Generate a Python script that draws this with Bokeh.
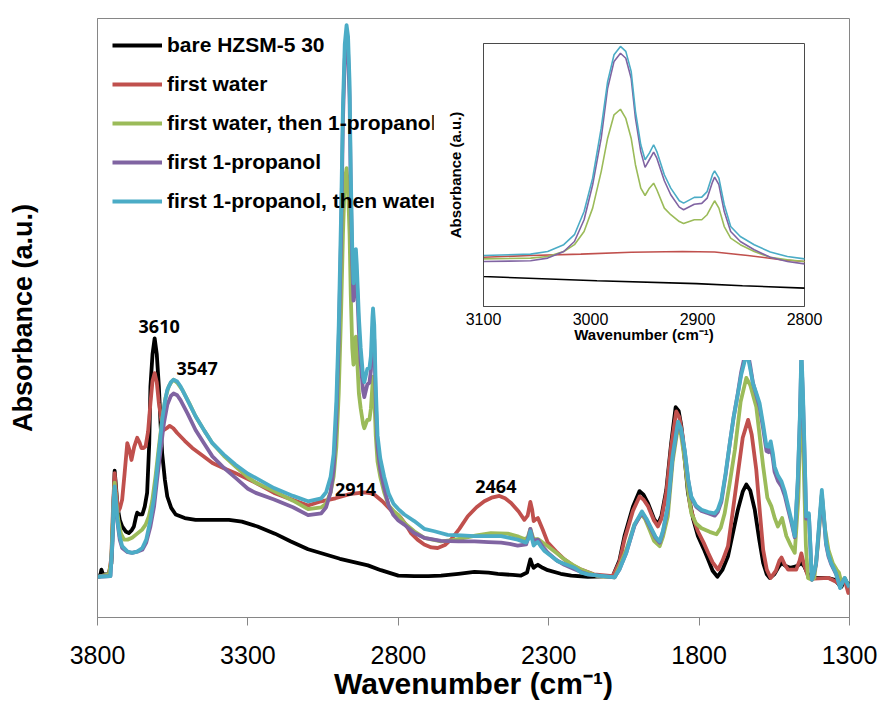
from bokeh.plotting import figure
from bokeh.models import Range1d, FixedTicker, Legend, LegendItem
from bokeh.layouts import row
from bokeh.embed import file_html
from bokeh.resources import INLINE
from bokeh.core.properties import value

# ---------------- FTIR spectra, absorbance in arbitrary units ----------------
names = ["bare HZSM-5 30", "first water", "first water, then 1-propanol",
         "first 1-propanol", "first 1-propanol, then water"]
colors = ["#000000", "#c0504d", "#9bbb59", "#8064a2", "#4bacc6"]

# bare HZSM-5 30
black_wn = [3800, 3790, 3787, 3782, 3763, 3754, 3748, 3743, 3738, 3734, 3726, 3718, 3705, 3696,
            3686, 3679, 3672, 3668, 3660, 3651, 3643, 3635, 3628, 3624, 3617, 3610, 3603, 3596,
            3590, 3585, 3576, 3568, 3555, 3540, 3510, 3474, 3420, 3363, 3320, 3268, 3210, 3157,
            3100, 2994, 2901, 2858, 2800, 2747, 2700, 2658, 2600, 2547, 2500, 2469, 2420, 2392,
            2372, 2361, 2355, 2350, 2343, 2336, 2320, 2303, 2260, 2225, 2170, 2087, 2065, 2048,
            2020, 1998, 1985, 1970, 1950, 1937, 1925, 1909, 1893, 1878, 1868, 1859, 1848, 1837,
            1820, 1804, 1785, 1770, 1755, 1739, 1722, 1704, 1688, 1671, 1655, 1643, 1630, 1615,
            1600, 1587, 1575, 1565, 1550, 1535, 1526, 1512, 1498, 1480, 1468, 1460, 1450, 1438,
            1426, 1400, 1370, 1349, 1335, 1327, 1316, 1308, 1300]
black_ab = [.068, .072, .080, .072, .072, .090, .170, .245, .215, .186, .163, .152, .143, .141,
            .146, .152, .168, .175, .172, .172, .185, .208, .290, .386, .440, .466, .440, .386,
            .320, .274, .230, .202, .183, .172, .166, .163, .163, .163, .160, .152, .140, .127,
            .114, .098, .087, .079, .070, .069, .069, .070, .073, .076, .075, .073, .071, .070,
            .075, .097, .088, .083, .086, .088, .083, .079, .073, .070, .068, .069, .095, .136,
            .185, .211, .205, .191, .165, .155, .170, .213, .290, .351, .345, .319, .265, .208,
            .165, .136, .115, .097, .078, .068, .080, .102, .140, .180, .210, .222, .212, .180,
            .130, .091, .072, .066, .072, .085, .091, .086, .083, .085, .088, .091, .085, .072,
            .066, .066, .066, .063, .055, .051, .063, .058, .055]

# first water
red_wn = [3800, 3762, 3754, 3748, 3743, 3738, 3731, 3725, 3718, 3710, 3701, 3694, 3687, 3678,
          3668, 3660, 3654, 3647, 3640, 3632, 3624, 3617, 3610, 3603, 3596, 3588, 3579, 3570,
          3560, 3548, 3535, 3510, 3485, 3450, 3418, 3380, 3341, 3300, 3274, 3213, 3160, 3100,
          3056, 3009, 2962, 2914, 2884, 2853, 2822, 2800, 2791, 2775, 2758, 2736, 2714, 2690,
          2669, 2645, 2625, 2597, 2569, 2540, 2514, 2490, 2464, 2445, 2425, 2400, 2381, 2370,
          2361, 2355, 2350, 2343, 2336, 2320, 2303, 2275, 2248, 2220, 2192, 2150, 2087, 2065,
          2048, 2020, 1998, 1985, 1970, 1950, 1937, 1925, 1909, 1893, 1876, 1866, 1854, 1842,
          1830, 1815, 1804, 1785, 1770, 1755, 1737, 1722, 1704, 1690, 1671, 1655, 1637, 1625,
          1610, 1597, 1587, 1575, 1562, 1545, 1533, 1526, 1515, 1504, 1477, 1466, 1460, 1452,
          1438, 1417, 1370, 1338, 1316, 1304, 1300]
red_ab = [.068, .072, .100, .190, .241, .210, .177, .183, .197, .240, .291, .280, .263, .285,
          .300, .292, .283, .283, .286, .310, .358, .395, .408, .393, .358, .330, .313, .316,
          .320, .316, .308, .295, .283, .270, .258, .249, .241, .231, .225, .208, .198, .187,
          .194, .199, .206, .209, .207, .194, .178, .171, .166, .155, .141, .130, .122, .117,
          .116, .121, .130, .148, .169, .184, .194, .200, .203, .199, .191, .177, .163, .170,
          .193, .180, .161, .164, .166, .147, .125, .110, .097, .087, .080, .072, .069, .092,
          .130, .178, .202, .197, .186, .162, .152, .165, .208, .285, .344, .335, .302, .240,
          .186, .160, .144, .125, .108, .092, .080, .095, .119, .170, .241, .300, .330, .305,
          .247, .170, .113, .080, .066, .078, .095, .100, .088, .080, .080, .095, .107, .090,
          .069, .065, .066, .058, .063, .041, .045]

# C-H stretching window (3100-2800), sampled finely for the three propanol spectra
ch_wn = [3100, 3056, 3040, 3025, 3015, 3006, 2998, 2990, 2984, 2978, 2972, 2967, 2962, 2958,
         2953, 2949, 2945, 2941, 2938, 2931, 2925, 2917, 2913, 2903, 2896, 2891, 2886, 2884,
         2880, 2875, 2869, 2860, 2847, 2832, 2816, 2800]
ch_green = [.181, .184, .190, .209, .235, .285, .374, .513, .640, .729, .750, .715, .640, .539,
            .450, .422, .450, .469, .444, .374, .349, .323, .316, .330, .330, .349, .387, .402,
            .374, .304, .260, .235, .209, .187, .178, .171]
ch_purple = [.171, .174, .184, .209, .247, .330, .463, .640, .830, .932, .963, .944, .868, .716,
             .589, .529, .558, .587, .564, .478, .425, .378, .368, .389, .392, .412, .473, .492,
             .463, .361, .285, .247, .216, .187, .171, .162]
ch_cyan = [.194, .199, .209, .235, .273, .361, .488, .678, .855, .957, .989, .970, .894, .742,
           .615, .558, .583, .615, .589, .501, .450, .402, .393, .415, .416, .437, .501, .516,
           .488, .387, .304, .266, .235, .207, .190, .181]

# first water, then 1-propanol (outside the C-H window)
green_hi_wn = [3800, 3762, 3754, 3748, 3743, 3738, 3731, 3722, 3712, 3700, 3685, 3668, 3651,
               3640, 3629, 3618, 3607, 3596, 3585, 3574, 3563, 3553, 3547, 3535, 3518, 3495,
               3474, 3445, 3418, 3380, 3341, 3300, 3274, 3213, 3150]
green_hi_ab = [.068, .072, .095, .180, .225, .195, .163, .140, .130, .130, .133, .140, .147,
               .155, .169, .195, .236, .285, .330, .367, .386, .394, .397, .392, .380, .358,
               .336, .312, .291, .270, .252, .234, .225, .211, .195]
green_lo_wn = [2780, 2747, 2714, 2658, 2620, 2580, 2540, 2492, 2436, 2400, 2381, 2370, 2361,
               2355, 2350, 2343, 2336, 2320, 2303, 2275, 2248, 2220, 2192, 2137, 2081, 2065,
               2042, 2015, 1992, 1980, 1965, 1950, 1931, 1920, 1904, 1888, 1870, 1860, 1848,
               1836, 1826, 1810, 1792, 1765, 1742, 1728, 1715, 1698, 1681, 1662, 1643, 1630,
               1610, 1598, 1587, 1573, 1560, 1548, 1538, 1524, 1510, 1495, 1482, 1470, 1460,
               1452, 1445, 1438, 1425, 1417, 1405, 1392, 1382, 1370, 1355, 1343, 1335, 1327,
               1316, 1300]
green_lo_ab = [.158, .144, .133, .127, .129, .133, .137, .141, .140, .135, .131, .133, .148,
               .138, .130, .131, .131, .125, .119, .108, .097, .088, .080, .069, .067, .085,
               .113, .155, .172, .165, .147, .128, .119, .135, .169, .260, .319, .305, .263,
               .210, .174, .157, .149, .143, .139, .150, .174, .225, .280, .360, .400, .388,
               .352, .300, .252, .200, .186, .165, .152, .166, .136, .120, .108, .200, .400,
               .250, .120, .066, .063, .066, .120, .205, .150, .113, .090, .080, .075, .058,
               .066, .050]

# first 1-propanol (outside the C-H window)
purple_hi_wn = [3800, 3757, 3750, 3746, 3743, 3739, 3734, 3726, 3718, 3700, 3685, 3668, 3651,
                3638, 3624, 3612, 3602, 3590, 3579, 3568, 3556, 3547, 3535, 3524, 3500, 3474,
                3445, 3418, 3380, 3341, 3300, 3274, 3213, 3150]
purple_hi_ab = [.068, .069, .125, .195, .213, .190, .160, .130, .116, .109, .108, .110, .113,
                .125, .152, .185, .230, .280, .325, .355, .370, .374, .371, .363, .340, .313,
                .290, .269, .250, .233, .215, .208, .197, .184]
purple_lo_wn = [2780, 2747, 2714, 2658, 2600, 2547, 2500, 2458, 2430, 2403, 2375, 2367, 2361,
                2355, 2350, 2343, 2336, 2320, 2303, 2275, 2248, 2220, 2192, 2170, 2081, 2065,
                2042, 2015, 1990, 1975, 1959, 1945, 1931, 1920, 1904, 1888, 1870, 1860, 1848,
                1836, 1826, 1810, 1792, 1770, 1748, 1738, 1726, 1712, 1698, 1685, 1671, 1660,
                1649, 1640, 1630, 1621, 1610, 1599, 1587, 1576, 1569, 1562, 1555, 1549, 1538,
                1526, 1515, 1504, 1492, 1482, 1472, 1465, 1460, 1455, 1451, 1447, 1444, 1438,
                1435, 1430, 1425, 1418, 1411, 1402, 1392, 1385, 1378, 1370, 1361, 1345, 1331,
                1322, 1316, 1308, 1300]
purple_lo_ab = [.155, .141, .133, .128, .127, .127, .126, .125, .123, .120, .122, .135, .148,
                .135, .127, .129, .130, .118, .108, .096, .088, .082, .076, .072, .067, .080,
                .108, .153, .175, .163, .147, .133, .125, .143, .183, .268, .325, .313, .278,
                .228, .200, .185, .178, .174, .170, .176, .193, .238, .290, .335, .375, .410,
                .435, .448, .420, .392, .372, .352, .315, .278, .276, .285, .266, .243, .228,
                .219, .203, .180, .156, .134, .225, .330, .435, .370, .300, .225, .165, .168,
                .170, .118, .063, .074, .089, .145, .205, .165, .122, .102, .089, .073, .050,
                .060, .065, .057, .050]

# first 1-propanol, then water (outside the C-H window)
cyan_hi_wn = [3800, 3757, 3750, 3746, 3743, 3739, 3734, 3726, 3718, 3700, 3685, 3668, 3651,
              3638, 3624, 3612, 3602, 3593, 3585, 3576, 3568, 3556, 3547, 3535, 3524, 3500,
              3474, 3445, 3418, 3380, 3341, 3300, 3274, 3213, 3150]
cyan_hi_ab = [.068, .069, .130, .200, .219, .195, .163, .135, .119, .110, .108, .110, .116,
              .130, .163, .200, .247, .290, .330, .360, .380, .393, .397, .394, .386, .362,
              .336, .312, .291, .272, .255, .240, .233, .216, .203]
cyan_lo_wn = [2780, 2747, 2714, 2680, 2636, 2590, 2547, 2500, 2458, 2430, 2403, 2375, 2367,
              2361, 2355, 2350, 2343, 2336, 2325, 2314, 2290, 2270, 2240, 2214, 2192, 2170,
              2081, 2065, 2042, 2015, 1990, 1975, 1959, 1945, 1931, 1920, 1904, 1888, 1870,
              1860, 1848, 1836, 1826, 1810, 1792, 1770, 1748, 1738, 1726, 1712, 1698, 1685,
              1671, 1660, 1649, 1640, 1630, 1621, 1610, 1599, 1587, 1576, 1569, 1562, 1555,
              1549, 1538, 1526, 1515, 1504, 1492, 1482, 1472, 1465, 1460, 1455, 1451, 1447,
              1444, 1438, 1435, 1430, 1425, 1418, 1411, 1402, 1392, 1385, 1378, 1370, 1361,
              1345, 1331, 1322, 1316, 1308, 1300]
cyan_lo_ab = [.172, .161, .148, .144, .138, .137, .136, .136, .136, .133, .130, .125, .132,
              .144, .130, .120, .124, .126, .118, .111, .102, .094, .088, .083, .075, .072,
              .067, .080, .108, .155, .177, .165, .149, .135, .127, .145, .186, .270, .327,
              .315, .280, .230, .202, .187, .180, .176, .174, .180, .197, .240, .291, .335,
              .374, .405, .427, .440, .415, .391, .375, .358, .322, .286, .285, .294, .275,
              .252, .237, .227, .210, .186, .160, .136, .230, .336, .445, .380, .308, .230,
              .169, .172, .174, .120, .063, .075, .091, .150, .213, .170, .125, .105, .091,
              .074, .049, .060, .066, .058, .051]

# band positions quoted on the chart
band_text = ["3610", "3547", "2914", "2464"]
band_wn = [3610, 3547, 2914, 2464]

# ---------------- assemble full spectra ----------------
spectra = [
    (black_wn, black_ab),
    (red_wn, red_ab),
    (green_hi_wn + ch_wn + green_lo_wn, green_hi_ab + ch_green + green_lo_ab),
    (purple_hi_wn + ch_wn + purple_lo_wn, purple_hi_ab + ch_purple + purple_lo_ab),
    (cyan_hi_wn + ch_wn + cyan_lo_wn, cyan_hi_ab + ch_cyan + cyan_lo_ab),
]

AXIS_GREY = "#868686"

# ---------------- main figure ----------------
p = figure(width=883, height=702, x_range=Range1d(3800, 1300), y_range=Range1d(0, 1),
           output_backend="svg", toolbar_location=None,
           min_border_left=97, min_border_right=34, min_border_top=18, min_border_bottom=84)
p.grid.visible = False
p.outline_line_color = AXIS_GREY
p.background_fill_color = "white"
p.border_fill_color = "white"

renderers = []
for (wn, ab), c in zip(spectra, colors):
    renderers.append(p.line(wn, ab, line_color=c, line_width=3.8, line_join="round"))

xa = p.xaxis[0]
xa.ticker = FixedTicker(ticks=[3800, 3300, 2800, 2300, 1800, 1300])
xa.minor_tick_line_color = None
xa.major_tick_in = 0
xa.major_tick_out = 8
xa.axis_line_color = AXIS_GREY
xa.major_tick_line_color = AXIS_GREY
xa.major_label_text_font = "Liberation Sans"
xa.major_label_text_font_size = "25px"
xa.major_label_text_color = "black"
xa.major_label_standoff = 20
xa.axis_label = "Wavenumber (cm\u207b\u00b9)"
xa.axis_label_text_font = "Liberation Sans"
xa.axis_label_text_font_style = "bold"
xa.axis_label_text_font_size = "30px"
xa.axis_label_text_color = "black"
xa.axis_label_standoff = 0

ya = p.yaxis[0]
ya.ticker = FixedTicker(ticks=[])
ya.minor_tick_line_color = None
ya.major_tick_in = 0
ya.major_tick_out = 0
ya.axis_line_color = AXIS_GREY
ya.major_label_text_font_size = "0px"
ya.axis_label = "Absorbance (a.u.)"
ya.axis_label_text_font = "Liberation Sans"
ya.axis_label_text_font_style = "bold"
ya.axis_label_text_font_size = "27px"
ya.axis_label_text_color = "black"
ya.axis_label_standoff = 60

# band labels above their peaks
p.text(x=band_wn, y=[0.486, 0.416, 0.2145, 0.219], text=band_text,
       x_offset=[4.5, 23.5, -8.5, -3.5],
       text_font=value("Open Sans"), text_font_style="bold", text_font_size="18px",
       text_align="center", text_baseline="alphabetic", text_color="black")

legend = Legend(items=[LegendItem(label=n, renderers=[r]) for n, r in zip(names, renderers)],
                location="top_left")
legend.border_line_color = None
legend.background_fill_alpha = 0
legend.margin = 15
legend.padding = 0
legend.spacing = 15
legend.glyph_width = 50
legend.glyph_height = 20
legend.label_height = 20
legend.label_standoff = 5
legend.label_text_font = "Liberation Sans"
legend.label_text_font_style = "bold"
legend.label_text_font_size = "21px"
legend.label_text_color = "black"
p.add_layout(legend)

# ---------------- inset: C-H stretching region ----------------
ins = figure(frame_width=321, frame_height=263, x_range=Range1d(3100, 2800), y_range=Range1d(0, 1),
             output_backend="svg", toolbar_location=None,
             min_border_left=50, min_border_right=41, min_border_top=17, min_border_bottom=55)
ins.styles = {"position": "absolute", "left": "433px", "top": "25px"}
ins.grid.visible = False
ins.outline_line_color = "#4a4a4a"
ins.background_fill_color = "white"
ins.border_fill_color = "white"
for (wn, ab), c in zip(spectra, colors):
    ins.line(wn, ab, line_color=c, line_width=1.6)

ix = ins.xaxis[0]
ix.ticker = FixedTicker(ticks=[3100, 3000, 2900, 2800])
ix.minor_tick_line_color = None
ix.major_tick_in = 0
ix.major_tick_out = 0
ix.axis_line_color = "#4a4a4a"
ix.major_label_text_font = "Liberation Sans"
ix.major_label_text_font_size = "16px"
ix.major_label_text_color = "black"
ix.major_label_standoff = 6
ix.axis_label = "Wavenumber (cm\u207b\u00b9)"
ix.axis_label_text_font = "Liberation Sans"
ix.axis_label_text_font_style = "bold"
ix.axis_label_text_font_size = "15px"
ix.axis_label_text_color = "black"
ix.axis_label_standoff = -2

iy = ins.yaxis[0]
iy.ticker = FixedTicker(ticks=[])
iy.minor_tick_line_color = None
iy.major_tick_in = 0
iy.major_tick_out = 0
iy.axis_line_color = "#4a4a4a"
iy.major_label_text_font_size = "0px"
iy.axis_label = "Absorbance (a.u.)"
iy.axis_label_text_font = "Liberation Sans"
iy.axis_label_text_font_style = "bold"
iy.axis_label_text_font_size = "15px"
iy.axis_label_text_color = "black"
iy.axis_label_standoff = 20

layout = row(p, ins)
open("out.html", "w").write(file_html(layout, INLINE))
